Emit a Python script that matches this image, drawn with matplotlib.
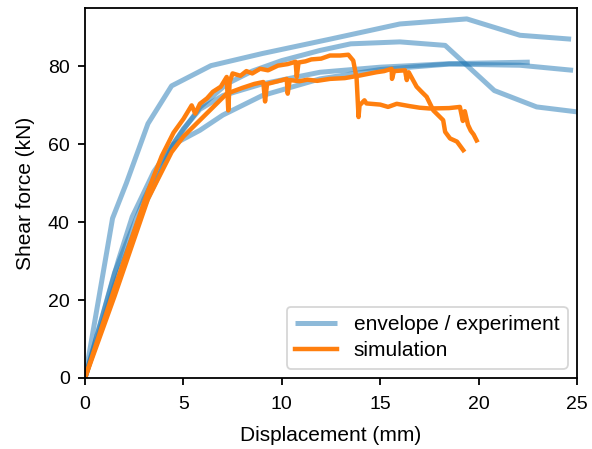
import matplotlib
matplotlib.use("Agg")
import matplotlib.pyplot as plt

plt.rcParams['font.family'] = ['Liberation Sans', 'DejaVu Sans']

# Envelope / experiment curves (displacement mm, shear force kN)
env1_x = [0, 1.4, 2.1, 3.2, 4.4, 6.4, 9.0, 12.45, 16.0, 19.4, 22.1, 24.7]
env1_y = [0, 41, 50, 65.3, 75, 80.2, 83.3, 87, 90.9, 92.2, 88, 87]

env2_x = [0, 1.7, 2.4, 3.5, 4.6, 5.84, 7.2, 8.5, 10.0, 11.94, 13.5, 16.0, 18.3, 20.8, 22.95, 25.05]
env2_y = [0, 30.3, 41.4, 53, 61, 69.5, 75.5, 78.8, 81.5, 84.1, 85.8, 86.3, 85.4, 73.8, 69.6, 68.3]

env3_x = [0, 1.5, 3.0, 4.0, 5.0, 5.84, 7.0, 9.0, 11.94, 15.0, 18.5, 22.6]
env3_y = [0, 27, 46, 56, 64, 69, 72.5, 75.5, 78.5, 79.8, 80.7, 81.1]

env4_x = [0, 1.5, 3.0, 4.5, 5.84, 7.0, 9.0, 11.94, 15.0, 18.5, 22.1, 24.8]
env4_y = [0, 24, 44, 60, 63.6, 67.5, 72.5, 76.8, 79.2, 80.6, 80.3, 79]

# Simulation curves
sim1_x = [0, 1.5, 3.2, 3.9, 4.5, 5.0, 5.42, 5.6, 5.84, 6.2, 6.5, 6.9, 7.2, 7.28, 7.35,
          7.5, 7.9, 8.2, 8.5, 8.9, 9.3, 9.8, 10.3, 10.7, 10.76, 10.85, 11.2, 11.5,
          12.0, 12.45, 12.96, 13.38, 13.63, 13.8, 13.85, 13.9, 13.95, 14.2, 14.3,
          15.0, 15.4, 15.84, 16.5, 17.0, 17.5, 18.5, 19.05, 19.2, 19.3, 19.46, 19.6,
          19.75, 19.9]
sim1_y = [0, 23, 48, 57, 63, 66.5, 70, 67.9, 70.4, 71.8, 73.5, 74.8, 77.3, 68.7, 76,
          78.2, 77.6, 78.8, 78.2, 79.4, 79.0, 80.2, 80.6, 81.2, 77.3, 81, 81.3, 81.8,
          82.0, 82.8, 82.8, 83.0, 81.5, 77, 72, 67, 70, 71.3, 70.5,
          70.2, 69.6, 70.4, 69.8, 69.4, 69.2, 69.3, 69.6, 66, 68.5, 65, 63.5,
          62.5, 61]

sim2_x = [0, 1.5, 3.2, 4.4, 5.0, 5.84, 6.5, 7.2, 8.0, 8.6, 9.06, 9.15, 9.25, 9.8,
          10.25, 10.3, 10.4, 10.9, 11.3, 11.8, 12.45, 13.2, 14.0, 14.8, 15.2, 15.58,
          15.6, 15.7, 16.26, 16.35, 16.45, 16.85, 17.1, 17.36, 17.7, 18.2, 18.3,
          18.55, 18.9, 19.22]
sim2_y = [0, 21, 46, 58, 62, 66.2, 69.5, 73, 74.5, 75.5, 76, 71, 75.5, 76.2,
          76.8, 73, 76.5, 76.2, 76.6, 76.3, 76.8, 77, 77.7, 78.5, 78.8, 79.4,
          76.8, 78.8, 79, 76.5, 78.5, 74.8, 73.5, 72.2, 68.7, 66.2, 63.2,
          61.5, 60.7, 58.5]

blue = '#1f77b4'
orange = '#ff7f0e'

fig = plt.figure(figsize=(5.92, 4.49), dpi=100)
ax = fig.add_axes([85/592, 71/449, (577-85)/592, (378-8)/449])

env = [(env1_x, env1_y), (env2_x, env2_y), (env3_x, env3_y), (env4_x, env4_y)]
for i, (x, y) in enumerate(env):
    ax.plot(x, y, color=blue, alpha=0.5, lw=3.6, solid_capstyle='butt',
            label='envelope / experiment' if i == 0 else None)
for i, (x, y) in enumerate([(sim1_x, sim1_y), (sim2_x, sim2_y)]):
    ax.plot(x, y, color=orange, lw=3.2, solid_joinstyle='round',
            label='simulation' if i == 0 else None)

ax.set_xlim(0, 25)
ax.set_ylim(0, 95)
ax.set_xticks([0, 5, 10, 15, 20, 25])
ax.set_yticks([0, 20, 40, 60, 80])
ax.tick_params(direction='out', length=5, width=1.3, pad=6, labelsize=14, colors='black')
ax.tick_params(axis='x', pad=8)
for s in ax.spines.values():
    s.set_linewidth(1.3)
ax.set_xlabel('Displacement (mm)', fontsize=15, labelpad=9)
ax.set_ylabel('Shear force (kN)', fontsize=15, labelpad=9)
leg = ax.legend(loc='lower right', fontsize=15, frameon=True, fancybox=True,
                borderaxespad=0.45, labelspacing=0.35)
leg.get_frame().set_edgecolor('#cccccc')
leg.get_frame().set_linewidth(1.3)

fig.savefig('out.png', dpi=100)
